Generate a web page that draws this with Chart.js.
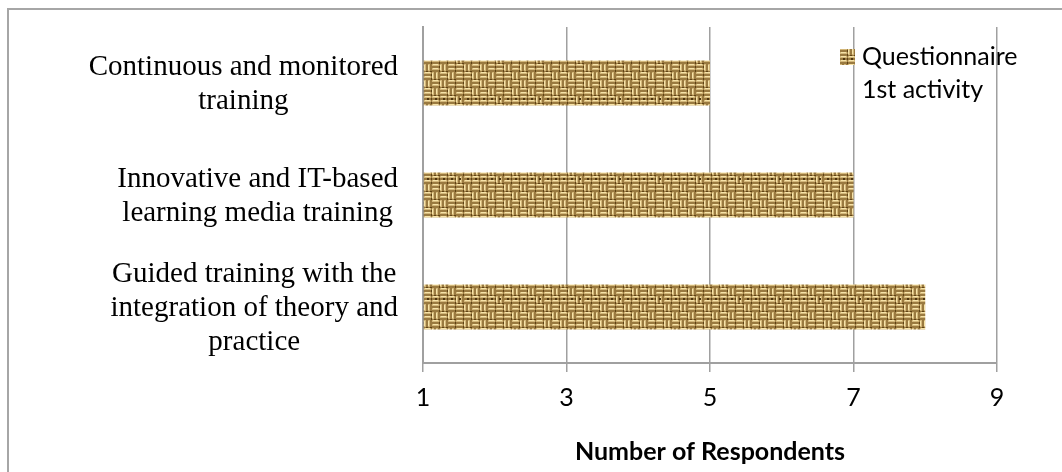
<!DOCTYPE html>
<html>
<head>
<meta charset="utf-8">
<script src="https://cdn.jsdelivr.net/npm/chart.js@4/dist/chart.umd.min.js"></script>
<style>
  html, body { margin: 0; padding: 0; background: #fff; }
  #wrap { width: 1062px; height: 472px; }
</style>
</head>
<body>
<div id="wrap"><canvas id="respondents" width="1062" height="472"></canvas></div>
<script>
// categories, top to bottom (each one already wrapped the way the figure wraps it)
const categories = [
    ["Continuous and monitored", "training"],
    ["Innovative and IT-based", "learning media training"],
    ["Guided training with the", "integration of theory and", "practice"]
];
const respondents = [5, 7, 8];
const seriesLabel = ["Questionnaire", "1st activity"];
const axisTitle = "Number of Respondents";
const axisMin = 1, axisMax = 9, axisStep = 2;

const ctx = document.getElementById('respondents').getContext('2d');

// burlap-like texture used as the bar fill
function burlapPattern() {
    const n = 5, cell = 8, size = n * cell;
    const raw = document.createElement('canvas');
    raw.width = size; raw.height = size;
    const g = raw.getContext('2d');
    g.fillStyle = '#9a7a40';
    g.fillRect(0, 0, size, size);
    for (let by = 0; by < n; by++) {
        for (let bx = 0; bx < n; bx++) {
            const x = bx * cell, y = by * cell;
            const horiz = ((bx * 2 + by) % 3) !== 0;
            for (let k = 0; k < 2; k++) {
                if (horiz) {
                    g.fillStyle = '#d3b77a';
                    g.fillRect(x, y + k * 4, 7, 2);
                    g.fillStyle = '#f6e3a8';
                    g.fillRect(x + 1, y + k * 4, 5, 1);
                    g.fillStyle = '#5e4215';
                    g.fillRect(x + 7, y + k * 4 + 2, 1, 2);
                } else {
                    g.fillStyle = '#d3b77a';
                    g.fillRect(x + k * 4, y, 2, 7);
                    g.fillStyle = '#f6e3a8';
                    g.fillRect(x + k * 4, y + 1, 1, 5);
                    g.fillStyle = '#5e4215';
                    g.fillRect(x + k * 4 + 2, y + 7, 2, 1);
                }
            }
            if ((bx * 3 + by * 2) % 3 === 1) {
                g.fillStyle = '#4e350e';
                g.fillRect(x + 3, y + 2, 2, 2);
            }
        }
    }
    // soften it a little, drawing neighbours so the tile stays seamless
    const tile = document.createElement('canvas');
    tile.width = size; tile.height = size;
    const t = tile.getContext('2d');
    t.filter = 'blur(0.6px)';
    for (let dy = -1; dy <= 1; dy++) {
        for (let dx = -1; dx <= 1; dx++) t.drawImage(raw, dx * size, dy * size);
    }
    return ctx.createPattern(tile, 'repeat');
}
const burlap = burlapPattern();

const frame = {
    id: 'frame',
    beforeDraw(chart) {
        const c = chart.ctx;
        c.save();
        c.strokeStyle = '#a6a6a6';
        c.lineWidth = 2;
        c.beginPath();
        c.moveTo(8, chart.height);
        c.lineTo(8, 9);
        c.lineTo(chart.width, 9);
        c.stroke();
        c.restore();
    }
};

// y labels: each block is centred on its own widest line, block right edge fixed
const yLabels = {
    id: 'yLabels',
    afterDraw(chart) {
        const c = chart.ctx;
        const scale = chart.scales.y;
        c.save();
        c.font = '29px "Liberation Serif"';
        c.fillStyle = '#000';
        c.textAlign = 'center';
        c.textBaseline = 'middle';
        const lh = 34;
        categories.forEach((lines, i) => {
            const widest = Math.max(...lines.map(l => c.measureText(l).width));
            const cx = scale.right - 25 - widest / 2;
            const cy = scale.getPixelForTick(i) + 1.5;
            lines.forEach((l, j) => {
                c.fillText(l, cx, cy + (j - (lines.length - 1) / 2) * lh);
            });
        });
        c.restore();
    }
};

// legend sits over the plot, top right
const floatLegend = {
    id: 'floatLegend',
    afterDraw(chart) {
        const c = chart.ctx;
        const a = chart.chartArea;
        const x = a.right - 157, y = a.top + 22;
        c.save();
        c.fillStyle = burlap;
        c.fillRect(x, y, 15, 16);
        c.fillStyle = '#000';
        c.font = '25px Lato';
        c.textAlign = 'left';
        c.textBaseline = 'middle';
        seriesLabel.forEach((l, j) => c.fillText(l, x + 22, y + 8 + j * 33));
        c.restore();
    }
};

const chart = new Chart(ctx, {
    type: 'bar',
    data: {
        labels: categories,
        datasets: [{
            label: seriesLabel.join(' '),
            data: respondents,
            base: axisMin,
            backgroundColor: burlap,
            borderWidth: 0,
            barPercentage: 0.4,
            categoryPercentage: 1
        }]
    },
    options: {
        indexAxis: 'y',
        responsive: false,
        animation: false,
        layout: { padding: { left: 0, right: 65, top: 27, bottom: 0 } },
        plugins: {
            legend: { display: false },
            tooltip: { enabled: false }
        },
        scales: {
            x: {
                min: axisMin,
                max: axisMax,
                ticks: {
                    stepSize: axisStep,
                    color: '#000',
                    font: { family: 'Lato', size: 25 },
                    padding: 11
                },
                grid: {
                    color: '#a0a0a0',
                    lineWidth: 1.5,
                    tickLength: 9
                },
                border: { color: '#a0a0a0', width: 2 },
                title: {
                    display: true,
                    text: axisTitle,
                    color: '#000',
                    font: { family: 'Lato', size: 25, weight: 'bold' },
                    padding: { top: 0, bottom: 5 }
                },
                afterFit(scale) { scale.height = 109; }
            },
            y: {
                ticks: { display: false },
                grid: { display: false },
                border: { color: '#a0a0a0', width: 2 },
                afterFit(scale) { scale.width = 423; }
            }
        }
    },
    plugins: [frame, yLabels, floatLegend]
});
</script>
</body>
</html>
